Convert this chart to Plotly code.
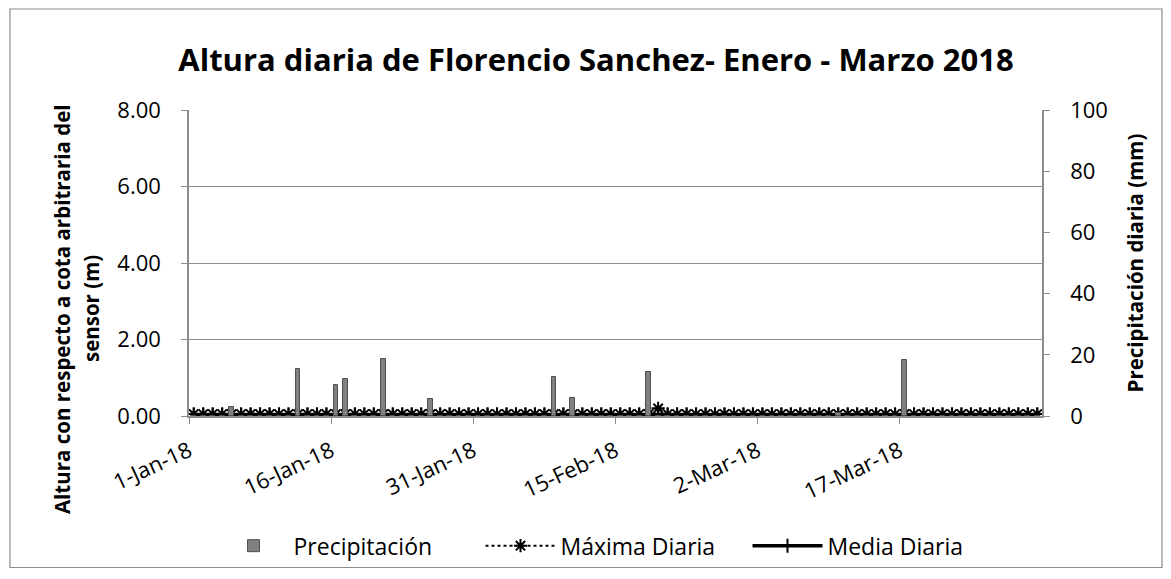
import pandas as pd
import plotly.graph_objects as go

# ---- data ----
start_date = "2018-01-01"
n_days = 90
dates = pd.date_range(start_date, periods=n_days, freq="D")

precipitacion_mm = [
    0, 0, 0, 0, 3.0, 0, 0, 0, 0, 0,
    0, 15.3, 0, 0, 0, 10.1, 12.2, 0, 0, 0,
    18.7, 0, 0, 0, 0, 5.7, 0, 0, 0, 0,
    0, 0, 0, 0, 0, 0, 0, 0, 12.7, 0,
    5.8, 0, 0, 0, 0, 0, 0, 0, 14.3, 0,
    0, 0, 0, 0, 0, 0, 0, 0, 0, 0,
    0, 0, 0, 0, 0, 0, 0, 0, 1.0, 0,
    0, 0, 0, 0, 0, 18.2, 0, 0, 0, 0,
    0, 0, 0, 0, 0, 0, 0, 0, 0, 0,
]
maxima_diaria_m = [
    0.05, 0.05, 0.05, 0.05, 0.05, 0.05, 0.05, 0.05, 0.05, 0.05,
    0.05, 0.05, 0.05, 0.05, 0.05, 0.05, 0.05, 0.05, 0.05, 0.05,
    0.05, 0.05, 0.05, 0.05, 0.05, 0.05, 0.05, 0.05, 0.05, 0.05,
    0.05, 0.05, 0.05, 0.05, 0.05, 0.05, 0.05, 0.05, 0.05, 0.05,
    0.05, 0.05, 0.05, 0.05, 0.05, 0.05, 0.05, 0.05, 0.05, 0.20,
    0.05, 0.05, 0.05, 0.05, 0.05, 0.05, 0.05, 0.05, 0.05, 0.05,
    0.05, 0.05, 0.05, 0.05, 0.05, 0.05, 0.05, 0.05, 0.05, 0.05,
    0.05, 0.05, 0.05, 0.05, 0.05, 0.05, 0.05, 0.05, 0.05, 0.05,
    0.05, 0.05, 0.05, 0.05, 0.05, 0.05, 0.05, 0.05, 0.05, 0.05,
]
media_diaria_m = [
    0.04, 0.04, 0.04, 0.04, 0.04, 0.04, 0.04, 0.04, 0.04, 0.04,
    0.04, 0.04, 0.04, 0.04, 0.04, 0.04, 0.04, 0.04, 0.04, 0.04,
    0.04, 0.04, 0.04, 0.04, 0.04, 0.04, 0.04, 0.04, 0.04, 0.04,
    0.04, 0.04, 0.04, 0.04, 0.04, 0.04, 0.04, 0.04, 0.04, 0.04,
    0.04, 0.04, 0.04, 0.04, 0.04, 0.04, 0.04, 0.04, 0.04, 0.04,
    0.04, 0.04, 0.04, 0.04, 0.04, 0.04, 0.04, 0.04, 0.04, 0.04,
    0.04, 0.04, 0.04, 0.04, 0.04, 0.04, 0.04, 0.04, 0.04, 0.04,
    0.04, 0.04, 0.04, 0.04, 0.04, 0.04, 0.04, 0.04, 0.04, 0.04,
    0.04, 0.04, 0.04, 0.04, 0.04, 0.04, 0.04, 0.04, 0.04, 0.04,
]

x_tick_dates = ["2018-01-01", "2018-01-16", "2018-01-31", "2018-02-15", "2018-03-02", "2018-03-17"]
x_tick_labels = ["1-Jan-18", "16-Jan-18", "31-Jan-18", "15-Feb-18", "2-Mar-18", "17-Mar-18"]

title_text = "Altura diaria de Florencio Sanchez- Enero - Marzo 2018"
y_left_title_lines = ["Altura con respecto a cota arbitraria del", "sensor (m)"]
y_right_title = "Precipitación diaria (mm)"

# points sit in the middle of each day slot (Excel date axis)
x_pos = dates + pd.Timedelta(hours=12)
x_range = [dates[0], dates[-1] + pd.Timedelta(days=1)]

FONT = "Open Sans"
GRID = "#8c8c8c"

# figure geometry (page has 8px body margin)
W, H = 1163, 571
L, R, T, B = 181, 129, 102, 160
PW, PH = W - L - R, H - T - B


def px(xf):
    return (xf - L) / PW


def py(yf):
    return (H - B - yf) / PH


fig = go.Figure()
fig.add_trace(go.Bar(
    x=x_pos, y=precipitacion_mm, name="Precipitación", yaxis="y2",
    width=0.5 * 86400000,
    marker=dict(color="#808080", line=dict(color="#505050", width=1)),
))
fig.add_trace(go.Scatter(
    x=x_pos, y=maxima_diaria_m, name="Máxima Diaria", mode="lines+markers",
    line=dict(color="black", width=2, dash="dot"),
    marker=dict(symbol="asterisk-open", size=11, color="black", line=dict(color="black", width=2)),
))
fig.add_trace(go.Scatter(
    x=x_pos, y=media_diaria_m, name="Media Diaria", mode="lines+markers",
    line=dict(color="black", width=3.5),
    marker=dict(symbol="line-ns-open", size=10, color="black", line=dict(color="black", width=2)),
))

annotations = [
    dict(text="<b>" + y_left_title_lines[0] + "</b>", textangle=-90, xref="paper", yref="paper",
         x=px(54), y=py(303), xanchor="center", yanchor="middle", showarrow=False,
         font=dict(family=FONT, size=20.5, color="black")),
    dict(text="<b>" + y_left_title_lines[1] + "</b>", textangle=-90, xref="paper", yref="paper",
         x=px(83), y=py(303), xanchor="center", yanchor="middle", showarrow=False,
         font=dict(family=FONT, size=20.5, color="black")),
    dict(text="<b>" + y_right_title + "</b>", textangle=-90, xref="paper", yref="paper",
         x=px(1127), y=py(257), xanchor="center", yanchor="middle", showarrow=False,
         font=dict(family=FONT, size=20.5, color="black")),
]

fig.update_layout(
    width=W, height=H,
    margin=dict(l=L, r=R, t=T, b=B),
    paper_bgcolor="white", plot_bgcolor="white",
    font=dict(family=FONT, size=20, color="black"),
    title=dict(text="<b>" + title_text + "</b>", x=588 / W, xanchor="center",
               y=1 - 52 / H, yanchor="middle", font=dict(family=FONT, size=31, color="black")),
    showlegend=True,
    legend=dict(orientation="h", x=px(606), xanchor="center", y=py(542), yanchor="middle",
                font=dict(family=FONT, size=23), itemwidth=70, entrywidth=182,
                traceorder="normal"),
    bargap=0,
    xaxis=dict(
        type="date", range=x_range,
        tickvals=x_tick_dates, ticktext=x_tick_labels,
        tickangle=-25, ticks="outside", ticklen=6, tickcolor=GRID, ticklabelstandoff=6,
        showline=True, linecolor=GRID, linewidth=1.5, showgrid=False,
        tickfont=dict(family=FONT, size=22), zeroline=False,
    ),
    yaxis=dict(
        range=[0, 8], dtick=2, tickformat=".2f",
        ticks="outside", ticklen=6, tickcolor=GRID, ticklabelstandoff=16,
        showline=True, linecolor=GRID, linewidth=1.5,
        showgrid=True, gridcolor=GRID, gridwidth=1, zeroline=False,
        tickfont=dict(family=FONT, size=22),
    ),
    yaxis2=dict(
        range=[0, 100], dtick=20, overlaying="y", side="right",
        ticks="outside", ticklen=6, tickcolor=GRID, ticklabelstandoff=16,
        showline=True, linecolor=GRID, linewidth=1.5, showgrid=False, zeroline=False,
        tickfont=dict(family=FONT, size=22),
    ),
    annotations=annotations,
    shapes=[dict(type="rect", xref="paper", yref="paper",
                 x0=px(2), x1=px(1154), y0=py(564), y1=py(0),
                 line=dict(color="#8c8c8c", width=1.2), fillcolor="rgba(0,0,0,0)", layer="below")],
)

fig.write_html("out.html")
